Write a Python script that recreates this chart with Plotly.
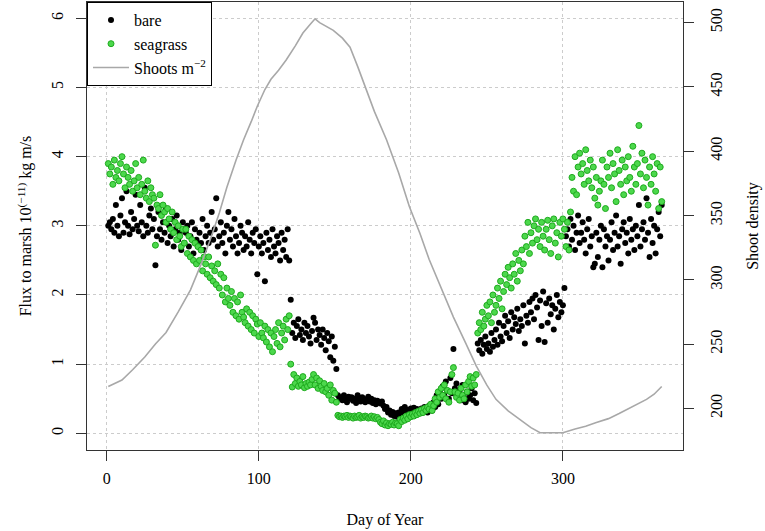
import plotly.graph_objects as go

# ---------------- data ----------------
days = list(range(1, 366))

bare = [
    3.0, 3.05, 2.95, 3.1, 2.9, 3.3, 3.0, 2.85, 3.15, 3.4,
    2.9, 3.05, 3.5, 3.0, 2.88, 3.2, 2.95, 3.1, 3.45, 3.0,
    2.92, 3.3, 3.05, 2.85, 3.55, 3.0, 2.9, 3.15, 3.25, 2.95,
    3.1, 2.43, 2.85, 3.2, 2.95, 2.8, 3.05, 2.9, 3.25, 2.75,
    3.0, 2.85, 3.1, 2.7, 2.95, 3.15, 2.8, 2.9, 2.65, 3.05,
    2.75, 2.9, 3.0, 2.7, 2.85, 3.05, 2.6, 2.95, 2.8, 2.7,
    2.9, 2.75, 3.1, 2.65, 2.85, 3.0, 2.75, 2.9, 3.2, 2.8,
    2.95, 3.4, 2.7, 2.85, 3.05, 2.75, 2.9, 2.6, 3.0, 3.2,
    2.8, 2.95, 2.7, 3.1, 2.85, 2.6, 2.75, 3.0, 2.9, 2.65,
    2.85, 2.7, 3.05, 2.8, 2.6, 2.9, 2.75, 2.95, 2.3, 2.7,
    2.85, 2.6, 2.75, 2.2, 2.9, 2.65, 2.8, 2.55, 2.95, 2.7,
    2.6, 2.85, 2.75, 2.5, 2.9, 2.65, 2.8, 2.55, 2.95, 2.5,
    1.93, 1.45, 1.6, 1.38, 1.55, 1.65, 1.42, 1.5, 1.35, 1.6,
    1.45, 1.55, 1.4, 1.3, 1.48, 1.67, 1.6, 1.35, 1.5, 1.42,
    1.28, 1.5, 1.38, 1.2, 1.45, 1.33, 1.1, 1.4, 1.05, 1.25,
    0.93, 0.55, 0.5, 0.52, 0.48, 0.55, 0.5, 0.45, 0.53, 0.5,
    0.52, 0.47, 0.5, 0.44, 0.55, 0.49, 0.46, 0.52, 0.5, 0.45,
    0.48, 0.53, 0.46, 0.5, 0.44, 0.48, 0.42, 0.47, 0.45, 0.43,
    0.46, 0.4, 0.35, 0.38, 0.3, 0.33, 0.27, 0.31, 0.25, 0.29,
    0.24, 0.3, 0.27, 0.35, 0.32, 0.38, 0.3, 0.34, 0.28, 0.36,
    0.32, 0.37, 0.3, 0.35, 0.33, 0.29, 0.36, 0.31, 0.38, 0.34,
    0.3, 0.4, 0.36, 0.33, 0.45, 0.38, 0.55, 0.42, 0.6, 0.5,
    0.68, 0.55, 0.75, 0.62, 0.5, 0.8, 0.58, 1.22, 0.65, 0.72,
    0.55, 0.62, 0.48, 0.7, 0.52, 0.45, 0.6, 0.5, 0.55, 0.65,
    0.48, 0.58, 0.44, 1.3, 1.2, 1.35, 1.15, 1.28, 1.4, 1.22,
    1.3, 1.18, 1.45, 1.25, 1.35, 1.5, 1.28, 1.6, 1.4, 1.33,
    1.55, 1.7, 1.45, 1.62, 1.38, 1.75, 1.5, 1.68, 1.58, 1.8,
    1.48, 1.65, 1.55, 1.85, 1.3, 1.7, 1.6, 1.9, 1.75, 1.95,
    1.65, 2.0, 1.82, 1.35, 1.92, 1.55, 2.05, 1.32, 1.88, 1.6,
    1.95, 1.72, 1.85, 1.5, 1.8, 2.0, 1.68, 1.9, 1.75, 1.85,
    2.1, 2.85, 2.95, 2.7, 3.1, 2.8, 3.0, 2.65, 2.9, 3.15,
    2.75, 2.9, 3.05, 2.8, 2.6, 2.95, 3.1, 2.7, 2.85, 2.4,
    2.45, 2.9, 2.55, 2.8, 3.0, 2.4, 2.95, 2.7, 2.85, 2.5,
    2.8, 3.05, 2.65, 2.9, 3.15, 2.7, 2.85, 2.45, 2.95, 3.05,
    2.75, 2.9, 2.6, 3.1, 2.8, 2.95, 2.65, 3.0, 2.85, 3.3,
    2.7, 2.95, 3.05, 2.8, 3.4, 2.9, 2.55, 3.1, 2.75, 3.0,
    2.6, 2.95, 3.2, 2.85, 3.3,
]

seagrass = [
    3.9, 3.75, 3.85, 3.6, 3.95, 3.7, 3.8, 3.65, 3.9, 4.0,
    3.75, 3.55, 3.85, 3.7, 3.6, 3.8, 3.5, 3.65, 3.9, 3.55,
    3.7, 3.45, 3.6, 3.95, 3.5, 3.4, 3.65, 3.35, 3.55, 3.45,
    3.4, 2.72, 3.3, 3.25, 3.45, 3.15, 3.3, 3.2, 3.05, 3.25,
    3.1, 2.95, 3.2, 2.9, 3.05, 2.8, 3.0, 2.85, 2.7, 2.95,
    2.75, 2.95, 2.6, 2.85, 2.55, 2.8, 2.5, 2.75, 2.45, 2.7,
    2.5, 2.65, 2.35, 2.55, 2.45, 2.3, 2.55, 2.25, 2.42, 2.2,
    2.35, 2.15, 2.45, 2.1, 2.3, 2.0, 2.25, 1.9, 2.1, 1.95,
    1.85, 2.05, 1.75, 1.95, 1.7, 1.9, 1.65, 2.0, 1.75, 1.68,
    1.6, 1.8, 1.55, 1.75, 1.5, 1.7, 1.45, 1.65, 1.58, 1.4,
    1.6, 1.45, 1.38, 1.55, 1.32, 1.5, 1.25, 1.45, 1.18, 1.4,
    1.5, 1.3, 1.6, 1.25, 1.45, 1.55, 1.35, 1.65, 1.5, 1.7,
    1.0, 0.67, 0.85, 0.72, 0.8, 0.68, 0.75, 0.7, 0.82, 0.66,
    0.72, 0.68, 0.74, 0.7, 0.78, 0.85, 0.7, 0.8, 0.65, 0.76,
    0.68, 0.62, 0.72, 0.6, 0.65, 0.55, 0.7, 0.48, 0.62, 0.58,
    0.45, 0.26, 0.24, 0.25, 0.23, 0.25, 0.24, 0.26, 0.23, 0.25,
    0.24, 0.22, 0.25, 0.23, 0.24, 0.26, 0.22, 0.24, 0.23, 0.25,
    0.24, 0.22, 0.23, 0.25, 0.22, 0.24, 0.21, 0.23, 0.2, 0.16,
    0.14, 0.18, 0.12, 0.15, 0.11, 0.14, 0.13, 0.16, 0.12, 0.15,
    0.14, 0.11, 0.2, 0.17, 0.22, 0.19, 0.25, 0.21, 0.27, 0.24,
    0.28, 0.25, 0.3, 0.27, 0.32, 0.29, 0.34, 0.3, 0.36, 0.33,
    0.38, 0.35, 0.42, 0.33, 0.4, 0.5, 0.45, 0.6, 0.52, 0.65,
    0.55, 0.7, 0.5, 0.62, 0.45, 0.6, 0.85, 0.95, 0.6, 0.52,
    0.58, 0.48, 0.65, 0.55, 0.5, 0.7, 0.6, 0.75, 0.82, 0.68,
    0.8, 0.7, 0.85, 1.45, 1.6, 1.5, 1.75, 1.55, 1.65, 1.85,
    1.7, 1.9, 1.6, 2.0, 1.75, 1.85, 2.1, 1.95, 2.2, 1.8,
    2.05, 2.3, 2.15, 2.4, 2.25, 2.1, 2.45, 2.3, 2.6, 2.2,
    2.5, 2.35, 2.65, 2.45, 2.85, 2.7, 3.05, 2.6, 2.9, 2.75,
    3.0, 3.1, 2.8, 2.95, 2.7, 3.05, 2.85, 2.65, 2.95, 3.08,
    2.8, 2.6, 3.0, 3.1, 2.75, 2.9, 2.55, 3.05, 2.85, 3.1,
    2.95, 2.7, 3.05, 2.65, 3.2, 3.7, 3.5, 4.0, 3.45, 3.85,
    4.05, 3.75, 3.9, 3.6, 4.1, 3.8, 3.65, 3.95, 3.55, 3.85,
    3.4, 3.7, 3.3, 3.5, 3.65, 3.95, 3.6, 3.25, 3.85, 3.7,
    4.05, 3.55, 3.9, 3.75, 3.35, 4.1, 3.8, 3.6, 3.95, 3.45,
    3.85, 3.65, 4.0, 3.7, 3.5, 4.15, 3.85, 3.6, 3.9, 4.45,
    3.75, 4.05, 3.55, 3.95, 3.7, 3.3, 3.85, 3.6, 4.0, 3.75,
    3.5, 3.9, 3.25, 3.85, 3.35,
]

shoot_days = [1, 10, 17, 25, 32, 39, 47, 55, 62, 68, 74, 79, 85, 90, 95, 99,
              104, 108, 113, 118, 124, 129, 134, 137, 140, 145, 149, 155, 160,
              165, 169, 176, 184, 192, 199, 206, 212, 220, 228, 236, 243, 250,
              256, 264, 272, 279, 285, 292, 300, 308, 315, 322, 330, 337, 345,
              355, 360, 365]
shoots = [217, 222, 230, 240, 250, 259, 275, 292, 312, 331, 352, 372, 393, 409,
          423, 435, 448, 456, 463, 471, 482, 492, 499, 503, 500, 497, 494, 488,
          481, 466, 453, 431, 409, 383, 357, 336, 316, 293, 271, 251, 233, 218,
          207, 198, 191, 185, 181, 181, 181, 184, 186, 189, 192, 196, 201, 207,
          211, 217]

x_ticks = [0, 100, 200, 300]
y_ticks = [0, 1, 2, 3, 4, 5, 6]
y2_ticks = [200, 250, 300, 350, 400, 450, 500]

FONT = "Liberation Serif"

fig = go.Figure()
fig.add_trace(go.Scatter(
    x=days, y=bare, mode="markers", name="bare",
    marker=dict(color="black", size=6, line=dict(width=0)),
    legendrank=1,
))
fig.add_trace(go.Scatter(
    x=days, y=seagrass, mode="markers", name="seagrass",
    marker=dict(color="#4cd84c", size=6, line=dict(color="#1eaa1e", width=1)),
    legendrank=2,
))
fig.add_trace(go.Scatter(
    x=shoot_days, y=shoots, mode="lines", name="Shoots m<sup>−2</sup>",
    line=dict(color="#a8a8a8", width=1.6), yaxis="y2",
    legendrank=3,
))

axis_common = dict(
    showline=True, linecolor="#333333", linewidth=1,
    ticks="outside", ticklen=10, tickcolor="#333333", tickwidth=1,
    zeroline=False,
    tickfont=dict(family=FONT, size=16, color="black"),
)

fig.update_layout(
    width=765, height=531,
    margin=dict(l=87, r=82, t=2, b=81),
    paper_bgcolor="white", plot_bgcolor="white",
    font=dict(family=FONT, size=16, color="black"),
    showlegend=True,
    legend=dict(
        x=0, y=1, xanchor="left", yanchor="top",
        bgcolor="white", bordercolor="black", borderwidth=1,
        font=dict(family=FONT, size=16, color="black"),
        tracegroupgap=0, itemwidth=36,
    ),
    xaxis=dict(
        **axis_common,
        range=[-13, 379], tickmode="array", tickvals=x_ticks,
        showgrid=True, gridcolor="#cccccc", griddash="dot", gridwidth=1,
        mirror=True,
        ticklabelstandoff=4,
        title=dict(text="Day of Year", standoff=27,
                   font=dict(family=FONT, size=16, color="black")),
    ),
    yaxis=dict(
        **axis_common,
        range=[-0.241, 6.236], tickmode="array", tickvals=y_ticks,
        tickangle=-90,
        showgrid=True, gridcolor="#cccccc", griddash="dot", gridwidth=1,
        mirror=False,
        ticklabelstandoff=7,
        title=dict(text="Flux to marsh 10<sup>(−11)</sup> kg m/s", standoff=12,
                   font=dict(family=FONT, size=16, color="black")),
    ),
    yaxis2=dict(
        **axis_common,
        overlaying="y", side="right",
        range=[167.6, 516.1], tickmode="array", tickvals=y2_ticks,
        tickangle=-90, showgrid=False,
        ticklabelstandoff=9,
        title=dict(text="Shoot density", standoff=22,
                   font=dict(family=FONT, size=16, color="black")),
    ),
)

fig.write_html("out.html", config={"displayModeBar": False},
               post_script="document.body.style.margin='0';document.body.style.overflow='hidden';")
